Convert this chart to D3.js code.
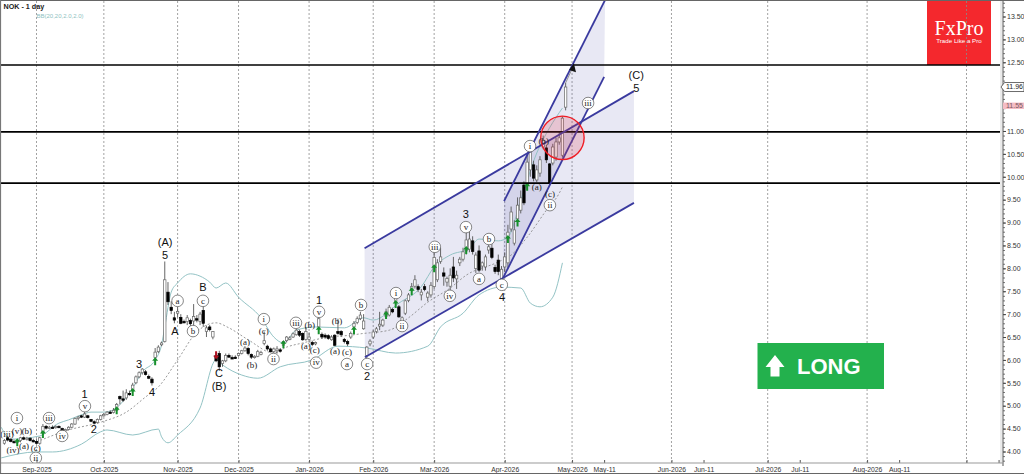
<!DOCTYPE html>
<html>
<head>
<meta charset="utf-8">
<title>NOK - 1 day</title>
<script src="https://cdn.jsdelivr.net/npm/d3@7"></script>
<style>
  html, body { margin: 0; padding: 0; background: #fff; overflow: hidden; }
  text { font-family: "Liberation Sans", Arial, sans-serif; }
  .wave-small { font-family: "Liberation Serif", "Times New Roman", serif; }
</style>
</head>
<body>
<script>
'use strict';

// daily candles, first one sits 10 bars before the Sep-2025 gridline
const firstBar = -10;
const opens = [
  4.18,4.30,4.26,4.22,4.20,4.24,4.30,4.27,4.29,4.24,
  4.22,4.18,4.40,4.55,4.51,4.53,4.53,4.55,4.50,4.46,
  4.48,4.53,4.60,4.72,4.78,4.75,4.78,4.70,4.65,4.63,
  4.70,4.78,4.81,4.86,4.85,4.90,5.20,5.15,5.17,5.27,
  5.35,5.50,5.63,5.72,5.74,5.64,5.58,6.05,6.18,6.33,
  6.40,7.48,7.15,6.92,7.02,6.93,6.84,6.84,6.86,6.85,
  6.90,6.84,7.08,6.62,6.72,6.50,6.10,6.14,5.92,5.98,
  6.10,6.05,6.06,6.10,6.14,6.20,6.25,6.12,6.07,6.08,
  6.12,6.36,6.30,6.24,6.18,6.20,6.22,6.32,6.42,6.46,
  6.50,6.55,6.62,6.58,6.45,6.45,6.38,6.36,6.72,6.56,
  6.54,6.53,6.44,6.54,6.62,6.62,6.45,6.40,6.50,6.72,
  6.82,6.90,6.68,6.10,6.35,6.50,6.62,6.74,6.76,6.95,
  6.98,7.10,7.25,7.16,6.83,7.02,7.30,7.52,7.61,7.60,
  7.42,7.60,7.37,7.42,7.60,7.75,8.15,7.90,7.70,7.61,
  8.03,7.77,8.12,8.20,8.38,8.42,8.60,8.00,8.38,8.05,
  8.03,8.40,8.44,8.02,8.18,7.77,8.03,8.12,8.86,8.55,
  9.08,9.27,9.82,9.82,10.15,10.26,9.93,10.08,10.65,10.63,
  10.28,10.30,10.43,10.76,10.47,11.52
];
const highs = [
  4.27,4.33,4.30,4.26,4.26,4.32,4.33,4.32,4.31,4.28,
  4.27,4.32,4.60,4.58,4.56,4.57,4.57,4.57,4.52,4.50,
  4.55,4.62,4.74,4.78,4.80,4.90,4.80,4.71,4.68,4.72,
  4.80,4.84,4.88,4.90,4.95,5.06,5.22,5.33,5.36,5.33,
  5.50,5.66,5.75,5.82,5.78,5.68,5.62,6.26,6.32,6.40,
  8.15,7.70,7.28,7.05,7.20,7.00,6.88,6.98,6.90,7.22,
  6.98,7.05,7.17,6.75,6.76,6.63,6.15,6.20,6.00,6.14,
  6.14,6.10,6.10,6.16,6.22,6.30,6.28,6.14,6.10,6.22,
  6.20,6.62,6.33,6.27,6.27,6.30,6.26,6.42,6.52,6.52,
  6.60,6.68,6.66,6.60,6.72,6.60,6.42,6.40,7.10,6.60,
  6.58,6.56,6.54,6.56,6.90,6.65,6.48,6.44,6.62,6.85,
  6.95,7.05,7.00,6.30,6.45,6.65,6.72,7.05,6.90,7.12,
  7.20,7.14,7.40,7.20,6.95,7.32,7.46,7.68,7.85,7.65,
  7.55,7.66,7.50,7.70,8.40,8.20,8.45,8.02,7.82,8.00,
  8.25,7.95,8.25,8.45,8.95,8.85,8.70,8.35,8.50,8.15,
  8.30,8.55,8.62,8.08,8.30,8.05,8.35,8.95,9.35,9.05,
  9.55,9.70,9.90,10.50,10.60,10.35,10.25,10.45,10.90,10.70,
  10.30,10.72,10.85,10.98,11.32,12.05
];
const lows = [
  4.15,4.22,4.20,4.18,4.17,4.20,4.25,4.24,4.22,4.20,
  4.15,4.15,4.36,4.48,4.49,4.50,4.50,4.51,4.43,4.44,
  4.46,4.51,4.58,4.68,4.73,4.73,4.72,4.64,4.60,4.61,
  4.68,4.76,4.79,4.83,4.83,4.88,5.03,5.08,5.13,5.22,
  5.30,5.47,5.60,5.68,5.66,5.58,5.44,6.00,6.15,6.30,
  6.38,7.20,7.00,6.80,6.93,6.78,6.80,6.76,6.73,6.72,
  6.82,6.76,6.72,6.50,6.62,6.45,5.95,5.76,5.85,5.95,
  6.05,6.02,6.02,6.07,6.12,6.18,6.10,6.02,6.03,6.06,
  6.10,6.32,6.20,6.16,6.14,6.14,6.16,6.28,6.38,6.43,
  6.48,6.53,6.50,6.42,6.42,6.40,6.30,6.32,6.65,6.46,
  6.46,6.44,6.42,6.30,6.55,6.50,6.36,6.30,6.46,6.68,
  6.78,6.87,6.66,6.00,6.30,6.46,6.58,6.65,6.72,6.90,
  6.95,7.02,7.20,6.92,6.78,6.98,7.26,7.48,7.56,7.48,
  7.30,7.50,7.28,7.36,7.55,7.70,8.10,7.62,7.60,7.35,
  7.70,7.55,8.05,8.15,8.30,8.35,8.30,7.90,7.92,7.95,
  7.95,8.32,8.20,7.88,7.85,7.70,7.92,8.00,8.80,8.50,
  9.00,9.20,9.38,9.75,10.00,9.90,9.88,10.00,10.60,10.30,
  9.82,10.25,10.35,10.70,10.42,11.45
];
const closes = [
  4.24,4.25,4.22,4.20,4.24,4.30,4.27,4.29,4.24,4.22,
  4.18,4.30,4.55,4.51,4.53,4.52,4.55,4.52,4.45,4.48,
  4.53,4.60,4.72,4.75,4.75,4.82,4.74,4.66,4.63,4.70,
  4.78,4.81,4.86,4.85,4.90,5.03,5.15,5.12,5.28,5.25,
  5.45,5.63,5.72,5.80,5.68,5.60,5.50,6.17,6.28,6.37,
  7.75,7.27,7.08,6.87,7.06,6.80,6.82,6.92,6.79,6.95,
  6.87,7.00,6.80,6.70,6.66,6.62,5.98,5.85,5.98,6.10,
  6.06,6.04,6.05,6.14,6.20,6.26,6.14,6.06,6.08,6.18,
  6.16,6.42,6.24,6.18,6.24,6.24,6.20,6.40,6.50,6.48,
  6.57,6.65,6.54,6.44,6.62,6.50,6.34,6.38,6.90,6.50,
  6.50,6.47,6.50,6.32,6.58,6.55,6.40,6.35,6.58,6.80,
  6.90,6.98,6.85,6.28,6.41,6.61,6.68,6.78,6.87,7.05,
  7.15,7.05,7.35,6.94,6.92,7.29,7.42,7.60,7.75,7.54,
  7.48,7.54,7.46,7.63,8.24,8.12,8.25,7.83,7.78,7.85,
  7.79,7.85,8.20,8.36,8.62,8.64,8.37,8.29,7.96,8.12,
  8.25,8.47,8.24,7.93,7.93,7.98,8.25,8.79,9.23,8.84,
  9.38,9.54,9.43,10.32,10.54,9.97,10.15,10.37,10.80,10.37,
  9.87,10.65,10.76,10.85,11.28,11.96
];

// bollinger bands, points as [bar, price]
const bbUpper = [[-11,4.53],[-8,4.27],[1,4.34],[7,4.62],[10,4.69],[14,4.80],[17,4.86],[21,4.86],[24,4.91],
  [28,5.19],[30,5.39],[33,5.74],[37,6.00],[39,6.33],[40,6.72],[42,7.48],[44,7.68],[48,7.88],[51,7.83],
  [54,7.70],[56,7.57],[59,7.68],[63,7.37],[70,6.92],[74,6.50],[77,6.37],[81,6.65],[87,6.72],[96,6.70],
  [102,6.92],[105,6.87],[113,7.24],[120,7.60],[124,8.03],[129,8.29],[135,8.44],[138,8.64],[144,8.60],
  [147,8.68],[151,9.49],[156,10.52],[160,11.07],[164,11.50]];
const bbMiddle = [[0,4.21],[10,4.47],[20,4.64],[28,4.86],[34,5.19],[38,5.41],[44,6.00],[50,6.61],[56,6.81],
  [60,6.70],[66,6.44],[74,6.15],[78,6.28],[83,6.37],[91,6.50],[98,6.54],[101,6.57],[110,6.65],[116,6.92],
  [122,7.26],[129,7.57],[134,7.85],[144,8.14],[148,8.29],[153,8.68],[159,9.27],[163,9.64],[164,9.78]];
const bbLower = [[-11,3.86],[0,3.99],[5,3.99],[14,4.16],[20,4.43],[22,4.47],[30,4.36],[38,4.49],[39,4.32],
  [41,4.19],[44,4.36],[51,4.95],[56,6.00],[58,5.89],[64,5.67],[69,5.60],[76,5.85],[86,6.00],[94,6.30],
  [103,6.26],[112,6.15],[122,6.30],[126,6.72],[133,7.02],[138,7.42],[145,7.59],[151,7.57],[154,7.24],
  [157,7.16],[161,7.37],[164,8.12]];

// elliott wave labels: text, bar, price
const waveBig = [
  ['(A)',40.1,8.58],['5',40.1,8.29],['A',43.2,6.62],['B',51.9,7.6],['C',56.9,5.72],['(B)',56.9,5.43],
  ['1',88.1,7.31],['2',103.1,5.65],['3',133.9,9.19],['4',145.2,7.37],['(C)',187,12.22],['5',187,11.94],
  ['1',15,5.26],['2',17.9,4.49],['3',32,5.91],['4',36,5.3]
];
const waveParen = [
  ['(iii)',-9.2,4.38],['(v)',-6.1,4.45],['(b)',-3,4.45],['(iv)',-7.3,4.03],['(a)',-3.9,4.12],['(c)',-0.2,4.08],
  ['(a)',65,6.38],['(b)',67.2,5.89],['(c)',70.9,6.63],['(b)',85.2,6.76],['(a)',84,6.3],['(c)',86.8,6.22],
  ['(b)',93.7,6.85],['(a)',93.1,6.19],['(c)',96.8,6.17],['(a)',156,9.78],['(c)',160.1,9.62],['(b)',158.2,10.78]
];
const waveCircled = [
  ['i',-6.1,4.73],['ii',-0.2,3.86],['iii',3.9,4.73],['iv',8,4.34],['v',15.1,4.99],
  ['a',44,7.29],['b',48.8,6.63],['c',51.9,7.29],['i',70.9,6.89],['ii',73.9,6.02],['iii',80.9,6.81],
  ['iv',87.2,5.94],['v',88.1,7.05],['a',96.8,5.91],['b',101.2,7.2],['c',103.1,5.91],['i',112.1,7.46],
  ['ii',114,6.74],['iii',124.2,8.47],['iv',128.9,7.4],['v',133.9,8.9],['a',138,7.77],['b',141.1,8.64],
  ['c',145.1,7.64],['ii',160.1,9.38],['i',153.9,10.67],['iii',172,11.61]
];

// signal arrows under the candles
const buyArrows = [[-6,4.2],[2,4.38],[25,4.9],[30,5.3],[37,5.97],[77,6.34],[88,6.65],[99,6.65],[109,6.98],
  [112,7.22],[117,7.5],[124,8.0],[134,8.4],[147,8.64],[150,9.0],[153,9.78]];
const sellArrows = [[56,6.1]];

// support / resistance and channels
const levels = [12.44, 10.98, 9.86];
const mainChannel = [[102.3,8.44],[186.3,11.87],[186.3,9.43],[102.4,6.06]];
const steepChannel = [[145.8,9.47],[177.3,13.86],[177,12.18],[145.5,7.79]];

// time axis, bars are trading days up to May then calendar days
const monthBars = [0,21,44,63,85,105,124,146,167,198,228,259,290];
const tickBars = [0,21,44,63,85,105,124,146,167,177,198,208,228,238,259,269,290,300];
const tickNames = ['Sep-2025','Oct-2025','Nov-2025','Dec-2025','Jan-2026','Feb-2026','Mar-2026','Apr-2026',
  'May-2026','May-11','Jun-2026','Jun-11','Jul-2026','Jul-11','Aug-2026','Aug-11','',''];
// 11.50 and 12.00 sit behind the price tags in the picture
const priceLabels = d3.range(4, 13.51, 0.5);
const hiddenLabels = [11.5, 12];
const priceMinor = d3.range(3.8, 13.91, 0.1);

const width = 1024, height = 474;
const plotLeft = 1, plotRight = 1003, plotTop = 1, plotBottom = 463;

const x = d3.scaleLinear().domain([0, 290]).range([36.5, 966.5]);
const y = d3.scaleLinear().domain([4, 13.5]).range([451.5, 16.5]);

const svg = d3.select('body').append('svg')
  .attr('width', width)
  .attr('height', height)
  .style('display', 'block');

svg.append('clipPath').attr('id', 'plot')
  .append('rect')
  .attr('x', plotLeft).attr('y', plotTop)
  .attr('width', plotRight - plotLeft).attr('height', plotBottom - plotTop);

const plot = svg.append('g').attr('clip-path', 'url(#plot)');

// logo goes under the gridlines
const logo = plot.append('g');
logo.append('rect')
  .attr('x', 927).attr('y', 0).attr('width', 64).attr('height', 65)
  .attr('fill', '#f4282d');
logo.append('text')
  .attr('x', 959).attr('y', 35).attr('text-anchor', 'middle')
  .style('font-family', '"Liberation Serif", serif').style('font-size', '20px')
  .attr('fill', '#fff').text('FxPro');
logo.append('text')
  .attr('x', 959).attr('y', 42.5).attr('text-anchor', 'middle')
  .style('font-size', '6.2px').attr('fill', '#fff').text('Trade Like a Pro');

// month gridlines
plot.selectAll('.grid').data(monthBars).enter().append('line')
  .attr('x1', d => x(d)).attr('x2', d => x(d))
  .attr('y1', plotTop).attr('y2', plotBottom)
  .attr('stroke', '#8a8a8a').attr('stroke-width', 0.8)
  .attr('stroke-dasharray', '2,2');

// channel shading
const polyPoints = pts => pts.map(p => x(p[0]) + ',' + y(p[1])).join(' ');
plot.append('polygon').attr('points', polyPoints(mainChannel)).attr('fill', '#4a4aa8').attr('opacity', 0.13);
plot.append('polygon').attr('points', polyPoints(steepChannel)).attr('fill', '#4a4aa8').attr('opacity', 0.13);

// bands
const bandLine = d3.line()
  .x(d => x(d[0]))
  .y(d => y(d[1]))
  .curve(d3.curveMonotoneX);
plot.append('path').attr('d', bandLine(bbUpper)).attr('fill', 'none').attr('stroke', '#93c3c5').attr('stroke-width', 1);
plot.append('path').attr('d', bandLine(bbLower)).attr('fill', 'none').attr('stroke', '#93c3c5').attr('stroke-width', 1);
plot.append('path').attr('d', bandLine(bbMiddle)).attr('fill', 'none').attr('stroke', '#808080')
  .attr('stroke-width', 0.8).attr('stroke-dasharray', '2,2');

// candles
const candles = opens.map((o, i) => ({ bar: firstBar + i, o: o, h: highs[i], l: lows[i], c: closes[i] }));
const candleG = plot.selectAll('.candle').data(candles).enter().append('g');
candleG.append('line')
  .attr('x1', d => x(d.bar)).attr('x2', d => x(d.bar))
  .attr('y1', d => y(d.h)).attr('y2', d => y(d.l))
  .attr('stroke', '#555').attr('stroke-width', 0.9);
candleG.append('rect')
  .attr('x', d => x(d.bar) - 1.2)
  .attr('width', 2.4)
  .attr('y', d => y(Math.max(d.o, d.c)))
  .attr('height', d => Math.max(1.4, Math.abs(y(d.o) - y(d.c))))
  .attr('fill', d => d.c < d.o ? '#000' : '#fff')
  .attr('stroke', d => d.c < d.o ? '#000' : '#666')
  .attr('stroke-width', 0.7);

// green up / red down signal arrows
const arrowShape = 'M0,-4L3,-0.5L1,-0.5L1,4L-1,4L-1,-0.5L-3,-0.5Z';
plot.selectAll('.buy').data(buyArrows).enter().append('path')
  .attr('d', arrowShape)
  .attr('transform', d => 'translate(' + x(d[0]) + ',' + y(d[1]) + ')')
  .attr('fill', '#17902c');
plot.selectAll('.sell').data(sellArrows).enter().append('path')
  .attr('d', arrowShape)
  .attr('transform', d => 'translate(' + x(d[0]) + ',' + y(d[1]) + ') rotate(180)')
  .attr('fill', '#b01020');

// horizontal levels
plot.selectAll('.level').data(levels).enter().append('line')
  .attr('x1', plotLeft).attr('x2', 1000)
  .attr('y1', d => y(d)).attr('y2', d => y(d))
  .attr('stroke', '#000').attr('stroke-width', 1.6);

// channel borders, the polygons run [start, end, end, start]
const channelColor = '#3a3a9f';
[mainChannel, steepChannel].forEach(ch => {
  [[ch[0], ch[1]], [ch[3], ch[2]]].forEach(seg => {
    plot.append('line')
      .attr('x1', x(seg[0][0])).attr('y1', y(seg[0][1]))
      .attr('x2', x(seg[1][0])).attr('y2', y(seg[1][1]))
      .attr('stroke', channelColor).attr('stroke-width', 1.8);
  });
});

// red circle on the breakout
plot.append('circle')
  .attr('cx', x(164)).attr('cy', y(10.85)).attr('r', 21.7)
  .attr('fill', '#e0354a').attr('fill-opacity', 0.2)
  .attr('stroke', '#f01c24').attr('stroke-width', 1.4);

// forecast arrow from the last candle
plot.append('line')
  .attr('x1', x(165)).attr('y1', y(12.05))
  .attr('x2', x(167.1)).attr('y2', y(12.37))
  .attr('stroke', '#888').attr('stroke-width', 0.9);
plot.append('path')
  .attr('d', 'M1.5,-5L3.6,4L-3.2,1.8Z')
  .attr('transform', 'translate(' + x(167.1) + ',' + y(12.37) + ')')
  .attr('fill', '#111');

// wave labels
const bigLabels = plot.append('g');
bigLabels.selectAll('text').data(waveBig).enter().append('text')
  .attr('x', d => x(d[1])).attr('y', d => y(d[2]))
  .attr('text-anchor', 'middle').attr('dy', '0.36em')
  .style('font-size', '11px').attr('fill', '#111')
  .text(d => d[0]);

const parenLabels = plot.append('g');
parenLabels.selectAll('text').data(waveParen).enter().append('text')
  .attr('class', 'wave-small')
  .attr('x', d => x(d[1])).attr('y', d => y(d[2]))
  .attr('text-anchor', 'middle').attr('dy', '0.32em')
  .style('font-size', '9px').attr('fill', '#222')
  .text(d => d[0]);

const circled = plot.selectAll('.wave-c').data(waveCircled).enter().append('g')
  .attr('transform', d => 'translate(' + x(d[1]) + ',' + y(d[2]) + ')');
circled.append('circle')
  .attr('r', 5.8)
  .attr('fill', '#fff').attr('stroke', '#555').attr('stroke-width', 0.7);
circled.append('text')
  .attr('class', 'wave-small')
  .attr('text-anchor', 'middle').attr('dy', '0.3em')
  .style('font-size', '9px').attr('fill', '#222')
  .text(d => d[0]);

// LONG badge
const badge = plot.append('g');
badge.append('rect')
  .attr('x', 757.5).attr('y', 343).attr('width', 126.5).attr('height', 46)
  .attr('fill', '#23b14d');
badge.append('path')
  .attr('d', 'M775,355L784.5,367L779.5,367L779.5,376.5L770.5,376.5L770.5,367L765.5,367Z')
  .attr('fill', '#fff');
badge.append('text')
  .attr('x', 797).attr('y', 373.5)
  .style('font-size', '22px').style('font-weight', 'bold')
  .attr('fill', '#fff').text('LONG');

// titles
svg.append('text')
  .attr('x', 3.5).attr('y', 9)
  .style('font-size', '7.2px').style('font-weight', 'bold').attr('fill', '#222')
  .text('NOK - 1 day');
svg.append('text')
  .attr('x', 36.5).attr('y', 18)
  .style('font-size', '6px').attr('fill', '#8fbfc1')
  .text('BB(20,20,2.0,2.0)');

// time axis
const xAxis = d3.axisBottom(x)
  .tickValues(tickBars)
  .tickSize(3)
  .tickPadding(1)
  .tickFormat((d, i) => tickNames[i]);
const xG = svg.append('g').attr('transform', 'translate(0,' + plotBottom + ')').call(xAxis);
xG.select('.domain').remove();
xG.selectAll('text').style('font-size', '6.8px').attr('fill', '#333');
xG.selectAll('line').attr('stroke', '#555').attr('transform', 'translate(0,-3)');

// price axis, one for minor ticks and one for labels
const minorAxis = d3.axisRight(y).tickValues(priceMinor).tickSize(2).tickFormat('');
const minorG = svg.append('g').attr('transform', 'translate(' + plotRight + ',0)').call(minorAxis);
minorG.select('.domain').remove();
minorG.selectAll('line').attr('stroke', '#555').attr('stroke-width', 0.8);

const yAxis = d3.axisRight(y)
  .tickValues(priceLabels)
  .tickSize(3)
  .tickPadding(1)
  .tickFormat(d => hiddenLabels.includes(d) ? '' : d3.format('.2f')(d));
const yG = svg.append('g').attr('transform', 'translate(' + plotRight + ',0)').call(yAxis);
yG.select('.domain').remove();
yG.selectAll('text').style('font-size', '7px').attr('fill', '#333');
yG.selectAll('line').attr('stroke', '#444');

// frame
svg.append('line').attr('x1', plotRight).attr('x2', plotRight).attr('y1', 0).attr('y2', plotBottom + 3)
  .attr('stroke', '#555').attr('stroke-width', 1);
svg.append('line').attr('x1', plotRight - 2).attr('x2', plotRight - 2).attr('y1', 0).attr('y2', plotBottom)
  .attr('stroke', '#ccc').attr('stroke-width', 0.8);
svg.append('line').attr('x1', 0).attr('x2', plotRight).attr('y1', plotBottom).attr('y2', plotBottom)
  .attr('stroke', '#999').attr('stroke-width', 1.2);
svg.append('line').attr('x1', 0).attr('x2', width).attr('y1', 0.5).attr('y2', 0.5)
  .attr('stroke', '#666').attr('stroke-width', 1);
svg.append('line').attr('x1', 0.5).attr('x2', 0.5).attr('y1', 0).attr('y2', height)
  .attr('stroke', '#777').attr('stroke-width', 1.2);
svg.append('line').attr('x1', 0).attr('x2', width).attr('y1', 473.5).attr('y2', 473.5)
  .attr('stroke', '#666').attr('stroke-width', 1);

// price tags on the right
const lastPrice = closes[closes.length - 1];
const targetPrice = 11.55;
svg.append('path')
  .attr('d', 'M1001,0L1004.5,-4.5L1024,-4.5L1024,4.5L1004.5,4.5Z')
  .attr('transform', 'translate(0,' + y(lastPrice) + ')')
  .attr('fill', '#fff').attr('stroke', '#444').attr('stroke-width', 0.8);
svg.append('text')
  .attr('x', 1006).attr('y', y(lastPrice)).attr('dy', '0.34em')
  .style('font-size', '7px').attr('fill', '#222')
  .text(d3.format('.2f')(lastPrice));
svg.append('rect')
  .attr('x', 1003).attr('y', y(targetPrice) - 3.2).attr('width', 21).attr('height', 6.4)
  .attr('fill', '#f5bcc4');
svg.append('text')
  .attr('x', 1006).attr('y', y(targetPrice)).attr('dy', '0.34em')
  .style('font-size', '7px').attr('fill', '#7a5a5f')
  .text(d3.format('.2f')(targetPrice));
</script>
</body>
</html>
